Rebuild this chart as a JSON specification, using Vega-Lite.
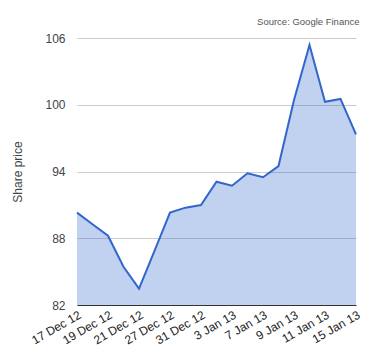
{
  "$schema": "https://vega.github.io/schema/vega-lite/v6.json",
  "width": 279,
  "height": 267,
  "autosize": {"type": "none"},
  "padding": {"left": 77, "top": 38, "right": 24, "bottom": 55},
  "config": {
    "font": "Liberation Sans",
    "view": {"stroke": null}
  },
  "title": {
    "text": "Source: Google Finance",
    "anchor": "end",
    "fontSize": 9.5,
    "fontWeight": "normal",
    "color": "#555555",
    "offset": 6,
    "dx": -2
  },
  "data": {
    "values": [
      {"date": "17 Dec 12", "price": 90.30},
      {"date": "18 Dec 12", "price": 89.26},
      {"date": "19 Dec 12", "price": 88.23},
      {"date": "20 Dec 12", "price": 85.44},
      {"date": "21 Dec 12", "price": 83.47},
      {"date": "26 Dec 12", "price": 86.87},
      {"date": "27 Dec 12", "price": 90.30},
      {"date": "28 Dec 12", "price": 90.75},
      {"date": "31 Dec 12", "price": 90.99},
      {"date": "2 Jan 13", "price": 93.08},
      {"date": "3 Jan 13", "price": 92.72},
      {"date": "4 Jan 13", "price": 93.84},
      {"date": "7 Jan 13", "price": 93.48},
      {"date": "8 Jan 13", "price": 94.49},
      {"date": "9 Jan 13", "price": 100.43},
      {"date": "10 Jan 13", "price": 105.37},
      {"date": "11 Jan 13", "price": 100.27},
      {"date": "14 Jan 13", "price": 100.52},
      {"date": "15 Jan 13", "price": 97.34}
    ]
  },
  "encoding": {
    "x": {
      "field": "date",
      "type": "ordinal",
      "sort": null,
      "scale": {"type": "point", "padding": 0},
      "axis": {
        "title": null,
        "values": ["17 Dec 12", "19 Dec 12", "21 Dec 12", "27 Dec 12", "31 Dec 12", "3 Jan 13", "7 Jan 13", "9 Jan 13", "11 Jan 13", "15 Jan 13"],
        "labelAngle": -30,
        "labelAlign": "right",
        "labelBaseline": "top",
        "labelFontSize": 12,
        "labelColor": "#222222",
        "labelPadding": 4,
        "ticks": false,
        "domainColor": "#333333",
        "domainWidth": 1,
        "grid": false,
        "zindex": 1
      }
    },
    "y": {
      "field": "price",
      "type": "quantitative",
      "scale": {"domain": [82, 106], "nice": false, "zero": false},
      "axis": {
        "title": "Share price",
        "titleFontSize": 12,
        "titleFontWeight": "normal",
        "titleColor": "#444444",
        "titlePadding": 20,
        "values": [82, 88, 94, 100, 106],
        "labelFontSize": 12,
        "labelColor": "#444444",
        "labelPadding": 12,
        "ticks": false,
        "domain": false,
        "gridColor": "#cccccc"
      }
    }
  },
  "layer": [
    {
      "mark": {"type": "area", "color": "#3366cc", "opacity": 0.3},
      "encoding": {"y2": {"datum": 82}}
    },
    {
      "mark": {"type": "line", "color": "#3366cc", "strokeWidth": 2}
    }
  ]
}
